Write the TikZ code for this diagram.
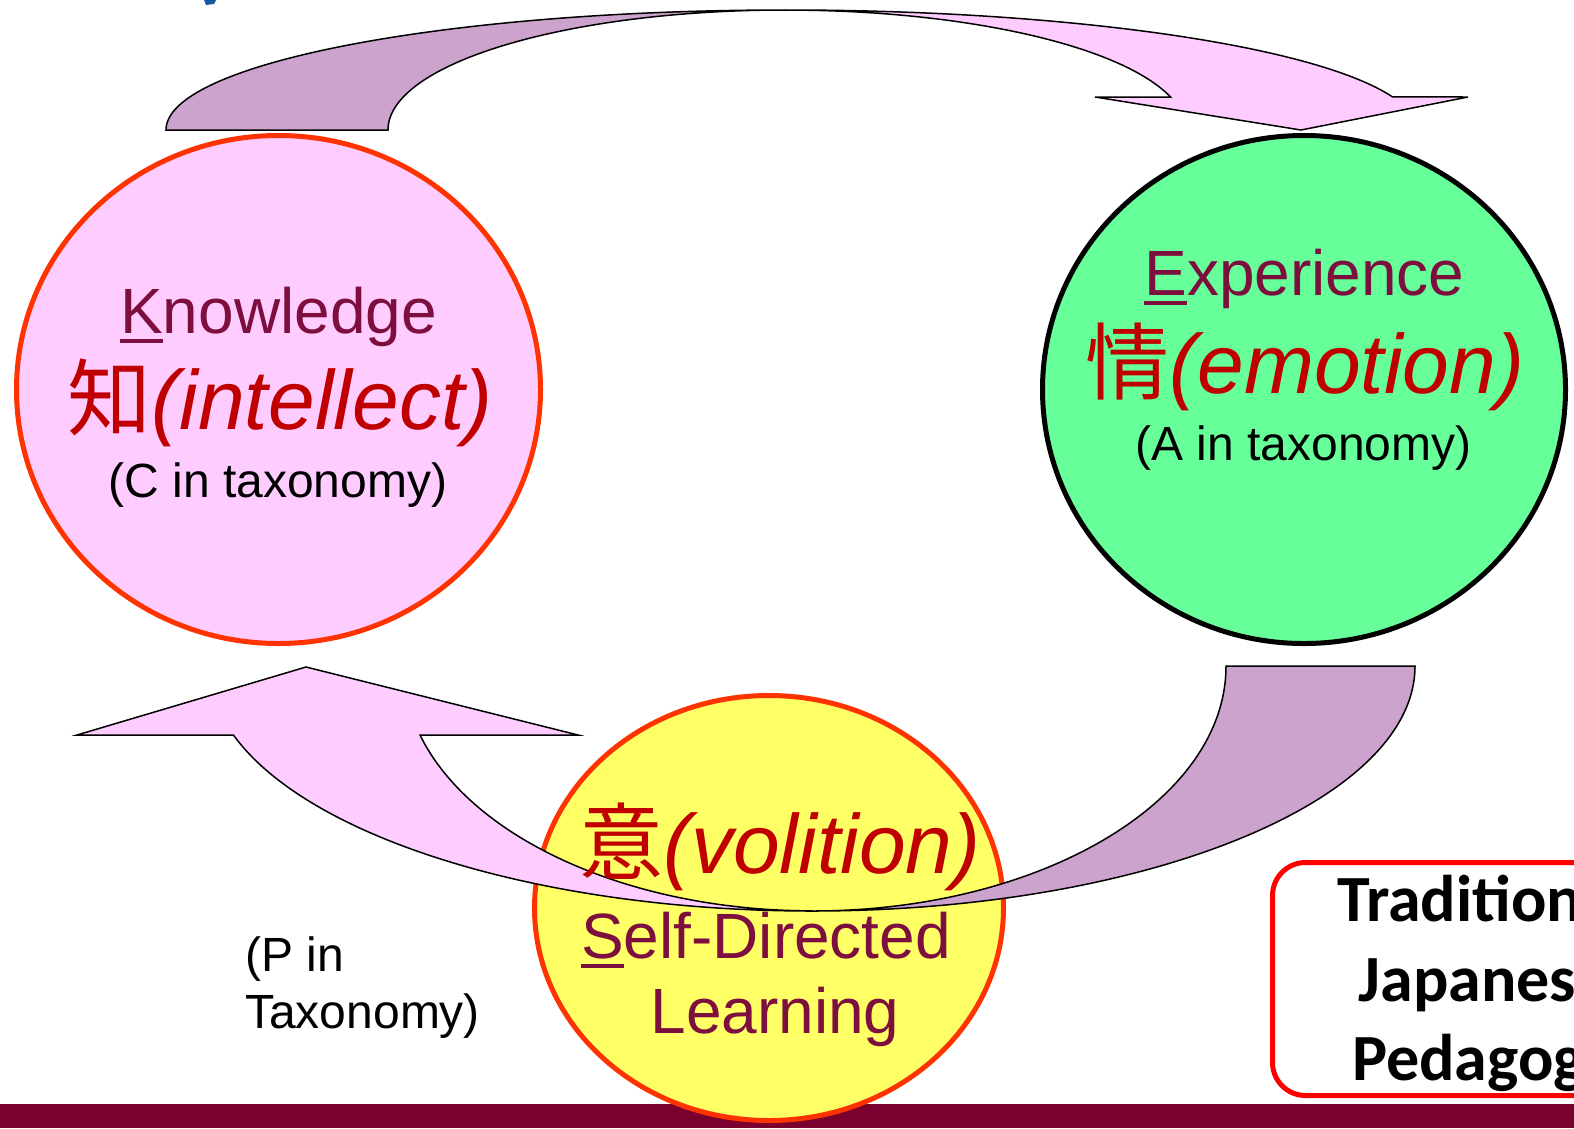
\documentclass[tikz,border=0pt]{standalone}
\usepackage{fontspec}
\setmainfont{Liberation Sans}
\newfontfamily\cjk{Noto Sans CJK JP}
\newfontfamily\carlito{Carlito}
\usetikzlibrary{shapes}

\definecolor{pinkfill}{HTML}{FFCCFF}
\definecolor{lilac}{HTML}{CCA3CC}
\definecolor{mintfill}{HTML}{66FF99}
\definecolor{lemonfill}{HTML}{FFFF66}
\definecolor{rimorange}{HTML}{FF3300}
\definecolor{wordmaroon}{RGB}{125,15,62}
\definecolor{kanjired}{HTML}{C00000}
\definecolor{boxred}{HTML}{FF0000}
\definecolor{barmaroon}{HTML}{7A0030}
\definecolor{titleblue}{RGB}{20,90,160}

\newcommand{\ulfirst}[1]{\setbox0=\hbox{#1}\rlap{\rule[-0.15em]{\wd0}{0.05em}}\box0}

\tikzset{
  bubble/.style={ellipse, line width=5pt, inner sep=0pt},
  bentpale/.style={fill=pinkfill, draw=black, line width=1.5pt},
  bentdeep/.style={fill=lilac, draw=black, line width=1.5pt},
  headword/.style={anchor=base, inner sep=0pt, text=wordmaroon, font=\fontsize{64}{64}\selectfont},
  kanjiword/.style={anchor=base, inner sep=0pt, text=kanjired, font=\fontsize{84}{84}\selectfont},
  taxword/.style={anchor=base, inner sep=0pt, font=\fontsize{48}{48}\selectfont},
  pedword/.style={anchor=base, inner sep=0pt, font=\carlito\bfseries\fontsize{66}{66}\selectfont},
}

\begin{document}
\begin{tikzpicture}[x=1pt, y=-1pt]
\useasboundingbox (0,0) rectangle (1574,1128);
\clip (0,0) rectangle (1574,1128);
% Footer bar and title remnant
\fill[barmaroon] (0,1104) rectangle (1574,1128);
\fill[titleblue] (204,0) -- (216,0) -- (214,4) -- (206,5) -- cycle;
% Circles
\node[bubble, draw=rimorange, fill=pinkfill, minimum width=524pt, minimum height=508pt] (knowCircle) at (278.5,389.5) {};
\node[bubble, draw=black, fill=mintfill, minimum width=523pt, minimum height=508pt] (expCircle) at (1304,389.5) {};
\node[bubble, draw=rimorange, fill=lemonfill, minimum width=469pt, minimum height=425pt] (volCircle) at (769,908) {};
% Top bent arrow: knowledge -> experience
\filldraw[bentdeep] (166,130) arc[start angle=180, end angle=90, x radius=620pt, y radius=120pt]
  arc[start angle=90, end angle=180, x radius=398pt, y radius=120pt] -- cycle;
\filldraw[bentpale] (786,10) arc[start angle=90, end angle=16, x radius=631pt, y radius=120pt]
  -- (1468,97) -- (1301,130) -- (1095,97) -- (1170.5,97)
  arc[start angle=16, end angle=90, x radius=400pt, y radius=120pt] -- cycle;
% Bottom bent arrow: experience -> knowledge
\filldraw[bentdeep] (1415,666) arc[start angle=0, end angle=-90, x radius=603pt, y radius=245pt]
  arc[start angle=-90, end angle=0, x radius=414pt, y radius=245pt] -- cycle;
\filldraw[bentpale] (812,911) arc[start angle=-90, end angle=-163.6, x radius=603pt, y radius=245pt]
  -- (77,735) -- (306,667) -- (578,735) -- (420,735)
  arc[start angle=-163.6, end angle=-90, x radius=408.5pt, y radius=245pt] -- cycle;
% Knowledge
\node[headword] (knowWord) at (278.5,333) {\ulfirst{K}nowledge};
\node[kanjiword] (knowKanji) at (280,429) {{\cjk 知}\textit{(intellect)}};
\node[taxword] (knowTax) at (278,497) {(C in taxonomy)};
% Experience
\node[headword] (expWord) at (1304.5,295) {\ulfirst{E}xperience};
\node[kanjiword] (expKanji) at (1305,393) {{\cjk 情}\textit{(emotion)}};
\node[taxword] (expTax) at (1303.5,460) {(A in taxonomy)};
% Volition
\node[kanjiword] (volKanji) at (780,873) {{\cjk 意}\textit{(volition)}};
\node[headword] (volWord) at (766,958) {\ulfirst{S}elf-Directed};
\node[headword] (volWordB) at (775,1033) {Learning};
\node[taxword, anchor=base west] (pTax) at (245,971) {(P in};
\node[taxword, anchor=base west] (pTaxB) at (245,1028) {Taxonomy)};
% Pedagogy box
\node[draw=boxred, line width=5pt, rounded corners=33pt, minimum width=420pt, minimum height=233pt] (pedBox) at (1482.5,979) {};
\node[pedword] (pedLine) at (1484,921) {Traditional};
\node[pedword] (pedLineB) at (1484,1001) {Japanese};
\node[pedword] (pedLineC) at (1484,1080) {Pedagogy};
\end{tikzpicture}
\end{document}
